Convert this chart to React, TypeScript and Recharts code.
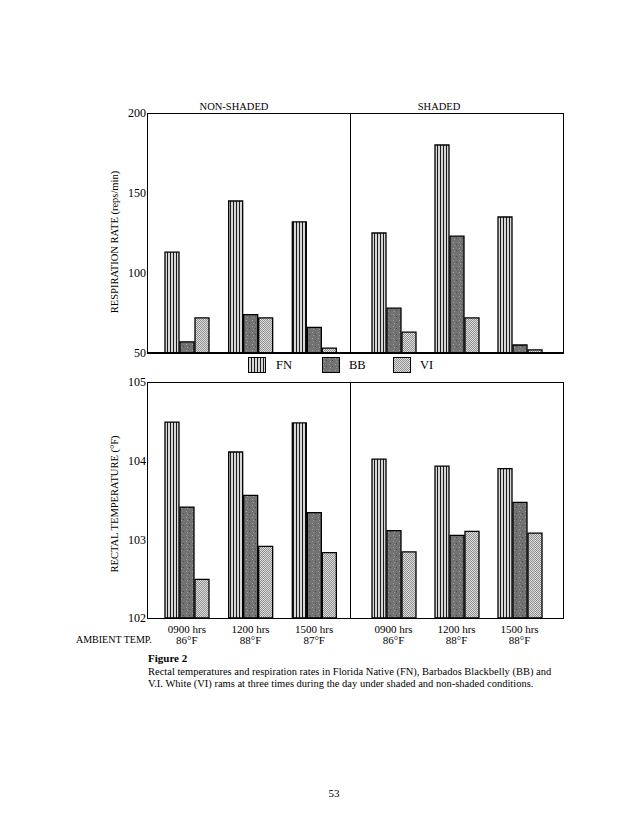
import React from 'react';
import { BarChart, Bar, XAxis, YAxis } from 'recharts';

const times = ['0900 hrs', '1200 hrs', '1500 hrs'];
const ambientNonShaded = ['86°F', '88°F', '87°F'];
const ambientShaded = ['86°F', '88°F', '88°F'];

const respNonShadedFN = [113, 145, 132];
const respNonShadedBB = [57, 74, 66];
const respNonShadedVI = [72, 72, 53];
const respShadedFN = [125, 180, 135];
const respShadedBB = [78, 123, 55];
const respShadedVI = [63, 72, 52];

const tempNonShadedFN = [104.49, 104.11, 104.48];
const tempNonShadedBB = [103.41, 103.56, 103.34];
const tempNonShadedVI = [102.49, 102.91, 102.83];
const tempShadedFN = [104.02, 103.93, 103.9];
const tempShadedBB = [103.11, 103.05, 103.47];
const tempShadedVI = [102.84, 103.1, 103.08];

const respTicks = [50, 100, 150, 200];
const tempTicks = [102, 103, 104, 105];

const build = (fn: number[], bb: number[], vi: number[], amb: string[]) =>
  times.map((t, i) => ({ time: t, ambient: amb[i], FN: fn[i], BB: bb[i], VI: vi[i] }));

const respNon = build(respNonShadedFN, respNonShadedBB, respNonShadedVI, ambientNonShaded);
const respSh = build(respShadedFN, respShadedBB, respShadedVI, ambientShaded);
const tempNon = build(tempNonShadedFN, tempNonShadedBB, tempNonShadedVI, ambientNonShaded);
const tempSh = build(tempShadedFN, tempShadedBB, tempShadedVI, ambientShaded);

const FONT = '"Liberation Serif", "Times New Roman", serif';

const Patterns = ({ p }: { p: string }) => (
  <defs>
    <pattern id={p + 'fn'} width="3" height="4" patternUnits="userSpaceOnUse">
      <rect width="3" height="4" fill="#d6d6d6" />
      <rect width="1" height="4" fill="#1a1a1a" />
    </pattern>
    <pattern id={p + 'bb'} width="6" height="6" patternUnits="userSpaceOnUse">
      <rect width="6" height="6" fill="#727272" />
      <rect x="1" y="1" width="1" height="1" fill="#a0a0a0" />
      <rect x="4" y="3" width="1" height="1" fill="#4a4a4a" />
      <rect x="2" y="4" width="1" height="1" fill="#9a9a9a" />
    </pattern>
    <pattern id={p + 'vi'} width="2" height="2" patternUnits="userSpaceOnUse">
      <rect width="2" height="2" fill="#e0e0e0" />
      <rect width="1" height="1" fill="#8c8c8c" />
      <rect x="1" y="1" width="1" height="1" fill="#8c8c8c" />
    </pattern>
  </defs>
);

const makeTick = (amb: string[]) => (props: any) => {
  const { x, y, payload } = props;
  const idx = times.indexOf(payload.value);
  return (
    <g>
      <text x={x} y={y + 15} textAnchor="middle" fontSize={11} fontFamily={FONT} fill="#000">
        {payload.value}
      </text>
      <text x={x} y={y + 26} textAnchor="middle" fontSize={11} fontFamily={FONT} fill="#000">
        {amb[idx]}
      </text>
    </g>
  );
};

const bars = (p: string) => [
  <Bar key="fn" dataKey="FN" fill={`url(#${p}fn)`} stroke="#000" strokeWidth={1.3} isAnimationActive={false} />,
  <Bar key="bb" dataKey="BB" fill={`url(#${p}bb)`} stroke="#000" strokeWidth={1.3} isAnimationActive={false} />,
  <Bar key="vi" dataKey="VI" fill={`url(#${p}vi)`} stroke="#000" strokeWidth={1.3} isAnimationActive={false} />,
];

const tickStyle = { fontSize: 12, fontFamily: FONT, fill: '#000' };

const abs = (left: number, top: number, extra: React.CSSProperties = {}): React.CSSProperties => ({
  position: 'absolute',
  left,
  top,
  ...extra,
});

const Line = ({ x, y, w, h }: { x: number; y: number; w: number; h: number }) => (
  <div style={{ position: 'absolute', left: x, top: y, width: w, height: h, background: '#000' }} />
);

const Txt = ({ x, cy, size, children, bold, center }: any) => (
  <div
    style={{
      position: 'absolute',
      left: x,
      top: cy - 7,
      height: 14,
      lineHeight: '14px',
      fontSize: size,
      fontFamily: FONT,
      fontWeight: bold ? 'bold' : 'normal',
      whiteSpace: 'nowrap',
      transform: center ? 'translateX(-50%)' : undefined,
      color: '#000',
    }}
  >
    {children}
  </div>
);

const Swatch = ({ x, id }: { x: number; id: string }) => (
  <svg style={abs(x, 357)} width={18} height={16}>
    <Patterns p="lg" />
    <rect x={0.5} y={0.5} width={17} height={15} fill={`url(#lg${id})`} stroke="#000" strokeWidth={1} />
  </svg>
);

export default function App() {
  return (
    <div style={{ position: 'absolute', left: 0, top: 0, width: 630, height: 831, background: '#fff', fontFamily: FONT }}>
      {/* Top row */}
      <Txt x={234} cy={107} size={10.5} center>NON-SHADED</Txt>
      <Txt x={439} cy={107} size={10.5} center>SHADED</Txt>

      <div style={abs(107, 103)}>
        <BarChart width={243} height={260} data={respNon} margin={{ top: 10, right: 0, bottom: 10, left: 0 }} barGap={1} barSize={14}>
          <Patterns p="a" />
          <XAxis dataKey="time" hide padding={{ left: 8, right: 4 }} />
          <YAxis width={40} domain={[50, 200]} ticks={respTicks} axisLine={false} tickLine={false} tickSize={0} tickMargin={1} tick={tickStyle} interval={0} />
          {bars('a')}
        </BarChart>
      </div>
      <div style={abs(350, 103)}>
        <BarChart width={213} height={260} data={respSh} margin={{ top: 10, right: 0, bottom: 10, left: 0 }} barGap={1} barSize={14}>
          <Patterns p="b" />
          <XAxis dataKey="time" hide padding={{ left: 12, right: 12 }} />
          <YAxis hide domain={[50, 200]} />
          {bars('b')}
        </BarChart>
      </div>
      {/* frame top */}
      <Line x={147} y={113} w={417} h={1} />
      <Line x={147} y={352} w={417} h={1.5} />
      <Line x={146.5} y={113} w={1.5} h={240} />
      <Line x={563} y={113} w={1} h={240} />
      <Line x={350} y={113} w={1} h={240} />

      <div
        style={{
          position: 'absolute',
          left: 114,
          top: 242,
          transform: 'translate(-50%, -50%) rotate(-90deg)',
          fontSize: 10.5,
          fontFamily: FONT,
          whiteSpace: 'nowrap',
        }}
      >
        RESPIRATION RATE (reps/min)
      </div>

      {/* Legend */}
      <Swatch x={248} id="fn" />
      <Txt x={276} cy={365} size={12.5}>FN</Txt>
      <Swatch x={322} id="bb" />
      <Txt x={349} cy={365} size={12.5}>BB</Txt>
      <Swatch x={393} id="vi" />
      <Txt x={420} cy={365} size={12.5}>VI</Txt>

      {/* Bottom row */}
      <div style={abs(107, 372)}>
        <BarChart width={243} height={280} data={tempNon} margin={{ top: 10, right: 0, bottom: 0, left: 0 }} barGap={1} barSize={14}>
          <Patterns p="c" />
          <XAxis dataKey="time" height={34} padding={{ left: 8, right: 4 }} axisLine={false} tickLine={false} tickSize={0} tickMargin={0} tick={makeTick(ambientNonShaded)} interval={0} />
          <YAxis width={40} domain={[102, 105]} ticks={tempTicks} axisLine={false} tickLine={false} tickSize={0} tickMargin={1} tick={tickStyle} interval={0} />
          {bars('c')}
        </BarChart>
      </div>
      <div style={abs(350, 372)}>
        <BarChart width={213} height={280} data={tempSh} margin={{ top: 10, right: 0, bottom: 0, left: 0 }} barGap={1} barSize={14}>
          <Patterns p="d" />
          <XAxis dataKey="time" height={34} padding={{ left: 12, right: 12 }} axisLine={false} tickLine={false} tickSize={0} tickMargin={0} tick={makeTick(ambientShaded)} interval={0} />
          <YAxis hide domain={[102, 105]} />
          {bars('d')}
        </BarChart>
      </div>
      <Line x={147} y={382} w={417} h={1} />
      <Line x={147} y={617.5} w={417} h={1.5} />
      <Line x={146.5} y={382} w={1.5} h={237} />
      <Line x={563} y={382} w={1} h={237} />
      <Line x={350} y={382} w={1} h={237} />

      <div
        style={{
          position: 'absolute',
          left: 114,
          top: 504,
          transform: 'translate(-50%, -50%) rotate(-90deg)',
          fontSize: 10.5,
          fontFamily: FONT,
          whiteSpace: 'nowrap',
        }}
      >
        RECTAL TEMPERATURE (°F)
      </div>

      <Txt x={76} cy={640} size={10}>AMBIENT TEMP.</Txt>

      <Txt x={148} cy={658} size={11} bold>Figure 2</Txt>
      <Txt x={148} cy={672} size={10.5}>
        Rectal temperatures and respiration rates in Florida Native (FN), Barbados Blackbelly (BB) and
      </Txt>
      <Txt x={148} cy={684} size={10.5}>
        V.I. White (VI) rams at three times during the day under shaded and non-shaded conditions.
      </Txt>

      <Txt x={334} cy={793} size={11} center>53</Txt>
    </div>
  );
}
